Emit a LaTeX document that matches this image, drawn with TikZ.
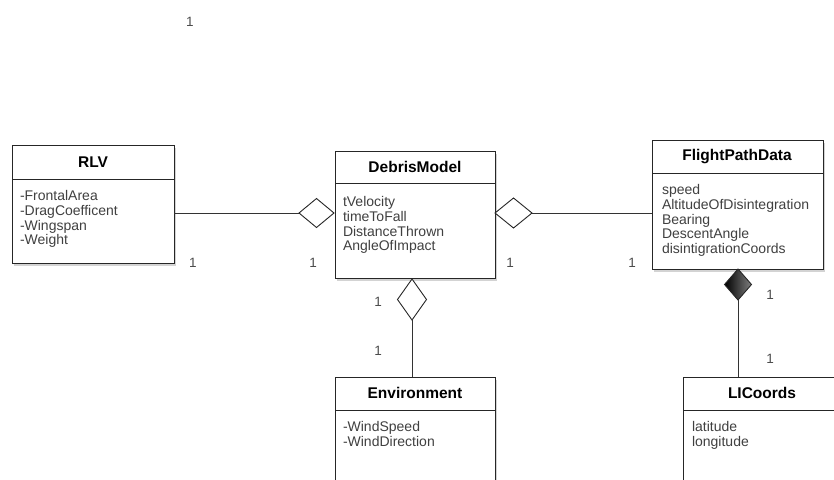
\documentclass[tikz,border=0pt]{standalone}
\usepackage{fontspec}
\setmainfont{Liberation Sans}
\usetikzlibrary{shapes.geometric,shadows}

\begin{document}
\begin{tikzpicture}[x=1pt,y=-1pt]
\tikzset{ >=latex, inner sep=0pt, outer sep=0pt,
  classbox/.style={draw=black!85, line width=0.9pt, fill=white, anchor=north west,
                   drop shadow={opacity=0.35, shadow xshift=2pt, shadow yshift=-3pt}},
  classname/.style={font=\fontsize{15.5}{17}\selectfont\bfseries},
  attrs/.style={anchor=north west, align=left, text=black!75, font=\fontsize{14}{14.7}\selectfont},
  divider/.style={draw=black!85, line width=0.9pt},
  mult/.style={text=black!70, font=\fontsize{13.5}{15}\selectfont},
  agg/.style={diamond, draw=black!85, line width=0.9pt, fill=white},
  comp/.style={diamond, draw=black!85, line width=0.9pt, left color=black, right color=black!50},
  link/.style={draw=black!80, line width=0.8pt},
}

\useasboundingbox (0,0) rectangle (834,479);
\clip (0,0) rectangle (834,479);

% classes
\node [classbox, minimum width=162, minimum height=118] (rlv) at (12,145) {};
\node [classbox, minimum width=160, minimum height=127] (dm)  at (335,151) {};
\node [classbox, minimum width=171, minimum height=129] (fpd) at (652,140) {};
\node [classbox, minimum width=160, minimum height=120] (env) at (335,377) {};
\node [classbox, minimum width=158, minimum height=120] (li)  at (683,377) {};

\draw [divider] (rlv.west |- 0,179) -- (rlv.east |- 0,179);
\draw [divider] (dm.west  |- 0,183) -- (dm.east  |- 0,183);
\draw [divider] (fpd.west |- 0,173) -- (fpd.east |- 0,173);
\draw [divider] (env.west |- 0,410) -- (env.east |- 0,410);
\draw [divider] (li.west  |- 0,410) -- (li.east  |- 0,410);

\node [classname] (rlvname) at (93,162)  {RLV};
\node [classname] (dmname)  at (415,167) {DebrisModel};
\node [classname] (fpdname) at (737,157) {FlightPathData};
\node [classname] (envname) at (415,393) {Environment};
\node [classname] (liname)  at (762,393) {LICoords};

\node [attrs] (rlvattr) at (20,190.5)  {-FrontalArea\\-DragCoefficent\\-Wingspan\\-Weight};
\node [attrs] (dmattr)  at (343,196.5) {tVelocity\\timeToFall\\DistanceThrown\\AngleOfImpact};
\node [attrs] (fpdattr) at (662,184.5) {speed\\AltitudeOfDisintegration\\Bearing\\DescentAngle\\disintigrationCoords};
\node [attrs] (envattr) at (343,421.5) {-WindSpeed\\-WindDirection};
\node [attrs] (liattr)  at (692,421.5) {latitude\\longitude};

% aggregation / composition
\node [agg,  minimum width=35, minimum height=29] (rlvagg) at (316.5,213) {};
\node [agg,  minimum width=37, minimum height=30] (fpdagg) at (513.5,213) {};
\node [agg,  minimum width=29, minimum height=41] (envagg) at (412,299.5) {};
\node [comp, minimum width=27, minimum height=31] (licomp) at (738,284.5) {};

\draw [link] (rlv.east |- rlvagg) -- (rlvagg.west);
\draw [link] (fpdagg.east) -- (fpd.west |- fpdagg);
\draw [link] (envagg.south) -- (env.north -| envagg);
\draw [link] (licomp.south) -- (li.north -| licomp);

% multiplicities
\node [mult] (m0) at (190,22)  {1};
\node [mult] (m1) at (193,263) {1};
\node [mult] (m2) at (313,263) {1};
\node [mult] (m3) at (510,263) {1};
\node [mult] (m4) at (632,263) {1};
\node [mult] (m5) at (378,302) {1};
\node [mult] (m6) at (378,351) {1};
\node [mult] (m7) at (770,295) {1};
\node [mult] (m8) at (770,359) {1};

\end{tikzpicture}
\end{document}
